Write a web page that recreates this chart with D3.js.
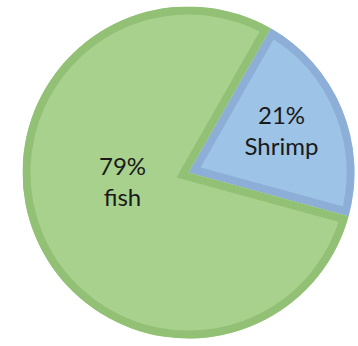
<!DOCTYPE html>
<html>
<head>
<meta charset="utf-8">
<script src="https://cdn.jsdelivr.net/npm/d3@7"></script>
<style>
  html, body { margin: 0; padding: 0; background: #ffffff; }
  svg { display: block; }
</style>
</head>
<body>
<svg id="chart" width="358" height="346"></svg>
<script>
// Share of the catch by species
const categories = ["Shrimp", "fish"];
const shares = [21, 79];
const percentLabels = ["21%", "79%"];

const fills = ["#9dc3e6", "#a9d18e"];
const outlines = ["#8caed7", "#92c175"];

const cx = 188.5, cy = 172.5;
const outerR = 166;
const borderW = 8;          // drawn inside each slice
const startDeg = 29.7;

const svg = d3.select("#chart");
const defs = svg.append("defs");
const g = svg.append("g").attr("transform", `translate(${cx},${cy})`);

const pie = d3.pie()
  .sort(null)
  .value(d => d.value)
  .startAngle(startDeg * Math.PI / 180)
  .endAngle(startDeg * Math.PI / 180 + 2 * Math.PI);

const data = categories.map((c, i) => ({ name: c, value: shares[i], label: percentLabels[i], i }));
const arcs = pie(data);

const arc = d3.arc().innerRadius(0).outerRadius(outerR);

// clip each outline to its own slice so the border sits inside the wedge
defs.selectAll("clipPath")
  .data(arcs)
  .join("clipPath")
  .attr("id", d => "clip-" + d.index)
  .append("path")
  .attr("d", arc);

const slices = g.selectAll("g.slice")
  .data(arcs)
  .join("g")
  .attr("class", "slice");

slices.append("path")
  .attr("d", arc)
  .attr("fill", d => fills[d.data.i])
  .attr("stroke", d => outlines[d.data.i])
  .attr("stroke-width", borderW * 2)
  .attr("stroke-linejoin", "miter")
  .attr("clip-path", d => `url(#clip-${d.index})`);

// label anchors: first-line baseline, offset from the pie centre
const labelOffsets = [[93, -48.5], [-66, 2.5]];
const labels = g.selectAll("text.lbl")
  .data(arcs)
  .join("text")
  .attr("class", "lbl")
  .attr("text-anchor", "middle")
  .attr("font-family", "Lato, 'Open Sans', sans-serif")
  .attr("font-size", 24)
  .attr("fill", "#1a1a1a")
  .attr("transform", d => `translate(${labelOffsets[d.data.i][0]},${labelOffsets[d.data.i][1]})`);

labels.append("tspan").attr("x", 0).attr("y", 0).text(d => d.data.label);
labels.append("tspan").attr("x", 0).attr("dy", 31).text(d => d.data.name);
</script>
</body>
</html>
